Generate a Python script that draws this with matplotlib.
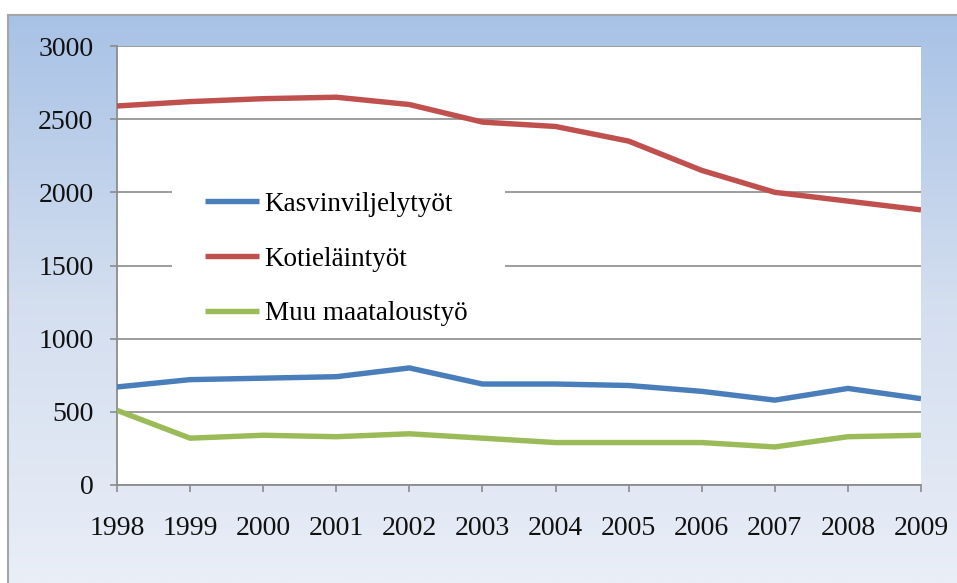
import numpy as np
import matplotlib
matplotlib.use("Agg")
import matplotlib.pyplot as plt
from matplotlib.colors import LinearSegmentedColormap
from matplotlib.patches import Rectangle
from matplotlib.font_manager import FontProperties

years = [1998, 1999, 2000, 2001, 2002, 2003, 2004, 2005, 2006, 2007, 2008, 2009]
kasvinviljely = [670, 720, 730, 740, 800, 690, 690, 680, 640, 580, 660, 590]
kotielain = [2590, 2620, 2640, 2650, 2600, 2480, 2450, 2350, 2150, 2000, 1940, 1880]
muu = [510, 320, 340, 330, 350, 320, 290, 290, 290, 260, 330, 340]
series_labels = ["Kasvinviljelytyöt", "Kotieläintyöt", "Muu maataloustyö"]
series_colors = ["#4a7ebb", "#c0504d", "#9bbb59"]
yticks = [0, 500, 1000, 1500, 2000, 2500, 3000]

W, H = 957, 583
fig = plt.figure(figsize=(W / 100, H / 100), dpi=100)
fig.patch.set_facecolor("white")

# gradient background panel
bg = fig.add_axes([8 / W, 0, 1 - 8 / W, 1 - 15 / H])
grad = np.linspace(0, 1, 256).reshape(-1, 1)
cmap = LinearSegmentedColormap.from_list("bg", ["#e9eef7", "#d3deef", "#a8c2e6"])
bg.imshow(grad, aspect="auto", cmap=cmap, origin="lower", extent=[0, 1, 0, 1])
bg.set_xticks([])
bg.set_yticks([])
for s in ["right", "bottom"]:
    bg.spines[s].set_visible(False)
for s in ["left", "top"]:
    bg.spines[s].set_color("#a6a6a6")
    bg.spines[s].set_linewidth(1.5)
bg.set_zorder(0)

ax = fig.add_axes([117 / W, (H - 485) / H, (921 - 117) / W, (485 - 46) / H])
ax.set_zorder(1)
ax.set_facecolor("white")
ax.set_axisbelow(True)

for vals, lab, col in zip([kasvinviljely, kotielain, muu], series_labels, series_colors):
    ax.plot(years, vals, color=col, lw=3.9, label=lab, solid_joinstyle="round",
            solid_capstyle="butt", zorder=3)

ax.set_xlim(years[0], years[-1])
ax.set_ylim(0, 3000)
ax.set_xticks(years)
ax.set_yticks(yticks)
ax.grid(axis="y", color="#8c8c8c", lw=1.2)
ax.grid(axis="x", visible=False)

for s in ["top", "right"]:
    ax.spines[s].set_visible(False)
for s in ["left", "bottom"]:
    ax.spines[s].set_color("#8c8c8c")
    ax.spines[s].set_linewidth(1.3)

tick_font = FontProperties(family="Liberation Serif", size=20)
ax.tick_params(axis="both", direction="out", length=5, width=1.2, color="#8c8c8c",
               labelcolor="#111111")
ax.tick_params(axis="x", pad=17)
ax.tick_params(axis="y", pad=12)
for t in ax.get_xticklabels() + ax.get_yticklabels():
    t.set_fontproperties(tick_font)

# white box behind legend
x0 = (172 - 117) / 804
x1 = (505 - 117) / 804
y_top = (485 - 178) / 439
y_bot = (485 - 332) / 439
ax.add_patch(Rectangle((x0, y_bot), x1 - x0, y_top - y_bot, transform=ax.transAxes,
                       facecolor="white", edgecolor="none", zorder=1))

leg = ax.legend(loc="center left", bbox_to_anchor=((205 - 117) / 804, (485 - 259) / 439),
                frameon=False, prop=FontProperties(family="Liberation Serif", size=19.5),
                handlelength=2.0, handletextpad=0.2, labelspacing=1.1,
                borderpad=0, borderaxespad=0)
for line in leg.get_lines():
    line.set_linewidth(3.9)
leg.set_zorder(5)

fig.savefig("out.png", dpi=100)
